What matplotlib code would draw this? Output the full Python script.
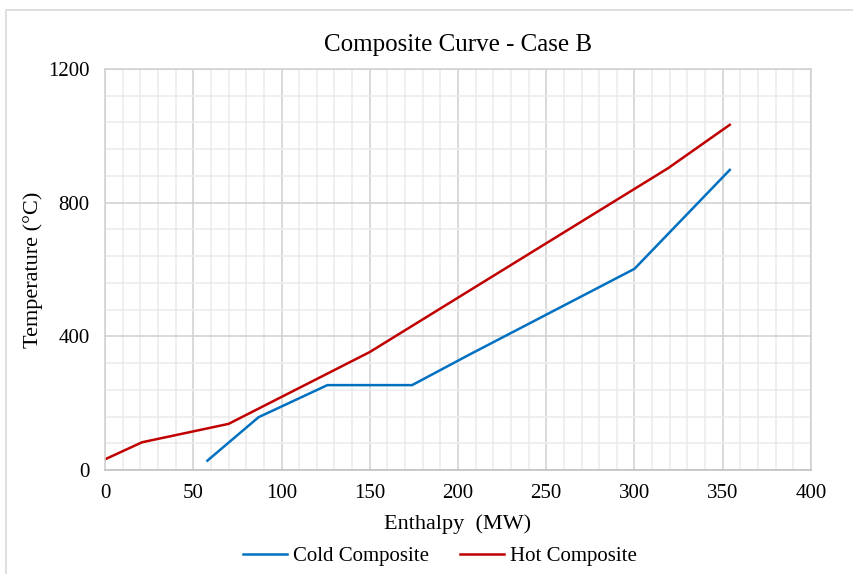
import numpy as np
import matplotlib.pyplot as plt
from matplotlib.patches import Rectangle
from matplotlib.ticker import MultipleLocator

# 數據
cold_h = [58, 87, 126, 174, 206, 300, 354]
cold_t = [28, 158, 254, 254, 344, 602, 898]
hot_h = [0, 21, 70, 150, 319, 354]
hot_t = [32, 83, 138, 353, 903, 1033]

plt.rcParams['font.family'] = ['Liberation Serif', 'DejaVu Serif']

fig = plt.figure(figsize=(8.54, 5.74), dpi=100)
ax = fig.add_axes([0.123, 0.1812, 0.8266, 0.6986])

# 圖框（只見左邊和上邊）
fig.patches.append(Rectangle((6 / 854, -0.05), 1.0, 0.05 + 564 / 574,
                             transform=fig.transFigure, fill=False,
                             edgecolor='#D9D9D9', linewidth=1.2))

ax.plot(cold_h, cold_t, color='#0070C0', linewidth=1.8, label='Cold Composite')
ax.plot(hot_h, hot_t, color='#C00000', linewidth=1.8, label='Hot Composite')

ax.set_xlim(0, 400)
ax.set_ylim(0, 1200)
ax.xaxis.set_major_locator(MultipleLocator(50))
ax.xaxis.set_minor_locator(MultipleLocator(10))
ax.yaxis.set_major_locator(MultipleLocator(400))
ax.yaxis.set_minor_locator(MultipleLocator(80))

ax.grid(which='minor', color='#EBEBEB', linewidth=1.1)
ax.grid(which='major', color='#D0D0D0', linewidth=1.1)
ax.set_axisbelow(True)
ax.tick_params(which='both', length=0, labelsize=15, colors='black')
ax.tick_params(axis='x', pad=10)
ax.tick_params(axis='y', pad=11)
for s in ax.spines.values():
    s.set_color('#D0D0D0')
    s.set_linewidth(1.1)
ax.spines['bottom'].set_color('#BFBFBF')

ax.set_title('Composite Curve - Case B', fontsize=18, pad=13)
ax.set_xlabel('Enthalpy  (MW)', fontsize=16, labelpad=8)
ax.set_ylabel('Temperature (°C)', fontsize=16, labelpad=4)

ax.legend(loc='upper center', bbox_to_anchor=(0.4745, -0.145), ncol=2,
          frameon=False, fontsize=15, handlelength=2.1, columnspacing=1.5,
          handletextpad=0.3)

plt.savefig('out.png', dpi=100)
plt.close()
